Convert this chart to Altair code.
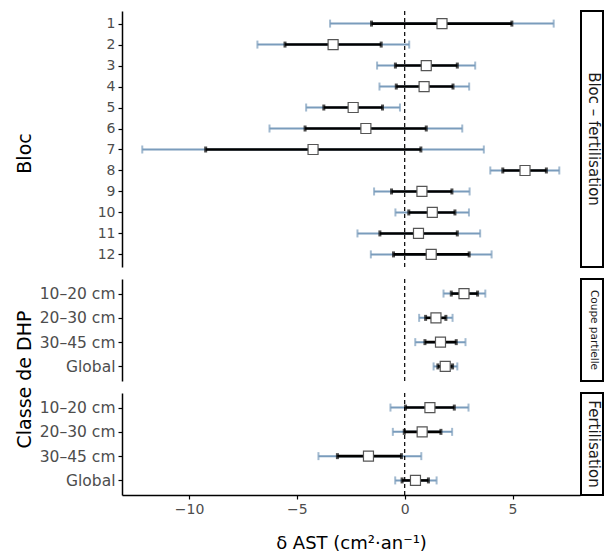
import altair as alt
import pandas as pd

W = 458
XMIN, XMAX = -13.11, 8.13
BLUE = "#7A9CBC"

bloc_labels = [str(i) for i in range(1, 13)]
bloc_est = [1.73, -3.32, 1.00, 0.90, -2.39, -1.80, -4.25, 5.58, 0.80, 1.28, 0.64, 1.23]
bloc_lo50 = [-1.54, -5.55, -0.43, -0.39, -3.75, -4.62, -9.23, 4.55, -0.61, 0.19, -1.15, -0.52]
bloc_hi50 = [4.97, -1.09, 2.44, 2.24, -1.03, 1.00, 0.75, 6.57, 2.19, 2.33, 2.44, 2.99]
bloc_lo95 = [-3.46, -6.83, -1.28, -1.17, -4.57, -6.27, -12.17, 3.97, -1.42, -0.43, -2.19, -1.57]
bloc_hi95 = [6.91, 0.21, 3.27, 2.99, -0.22, 2.67, 3.67, 7.17, 3.01, 2.98, 3.50, 4.03]

dhp_labels = ["10–20 cm", "20–30 cm", "30–45 cm", "Global"]
cp_est = [2.75, 1.45, 1.66, 1.88]
cp_lo50 = [2.16, 0.97, 0.94, 1.54]
cp_hi50 = [3.38, 1.91, 2.39, 2.22]
cp_lo95 = [1.80, 0.67, 0.49, 1.34]
cp_hi95 = [3.74, 2.22, 2.82, 2.44]

fe_est = [1.17, 0.81, -1.68, 0.50]
fe_lo50 = [0.04, -0.02, -3.12, -0.12]
fe_hi50 = [2.30, 1.68, -0.15, 1.10]
fe_lo95 = [-0.66, -0.55, -4.00, -0.44]
fe_hi95 = [2.96, 2.20, 0.77, 1.48]

x_ticks = [-10, -5, 0, 5]


def panel(labels, est, lo50, hi50, lo95, hi95, height, strip, strip_size,
          ytitle, title_y, show_x, label_size):
    df = pd.DataFrame(dict(label=labels, est=est, lo50=lo50, hi50=hi50,
                           lo95=lo95, hi95=hi95))
    xscale = alt.Scale(domain=[XMIN, XMAX], nice=False, zero=False)
    if show_x:
        xaxis = alt.Axis(values=x_ticks, title="δ AST (cm²·an⁻¹)", grid=False,
                         domainColor="black", domainWidth=1.5, tickColor="black",
                         tickSize=4, tickWidth=1.2, labelColor="#4D4D4D",
                         labelFontSize=14, labelPadding=3, titleFontSize=18,
                         titleFontWeight="normal", titleColor="black",
                         titlePadding=18)
    else:
        xaxis = None

    def X(f):
        return alt.X(f, scale=xscale, axis=xaxis)

    yscale = alt.Scale(type="point", domain=labels, padding=0.6)
    common = dict(grid=False, domainColor="black", domainWidth=1.5,
                  tickColor="black", tickSize=4, tickWidth=1.2,
                  labelColor="#4D4D4D", labelFontSize=label_size, labelPadding=3)
    if ytitle:
        yaxis = alt.Axis(title=ytitle, titleX=-98, titleY=title_y, titleAngle=270,
                         titleBaseline="middle", titleAlign="center",
                         titleFontSize=19, titleFontWeight="normal",
                         titleColor="black", **common)
    else:
        yaxis = alt.Axis(title=None, **common)
    Y = alt.Y("label:N", scale=yscale, axis=yaxis)

    base = alt.Chart(df)
    blue = base.mark_rule(color=BLUE, strokeWidth=2).encode(
        x=X("lo95:Q"), x2="hi95:Q", y=Y)
    blue_l = base.mark_tick(color=BLUE, size=8, thickness=2).encode(x=X("lo95:Q"), y=Y)
    blue_r = base.mark_tick(color=BLUE, size=8, thickness=2).encode(x=X("hi95:Q"), y=Y)
    zero = alt.Chart(alt.Data(values=[{"z": 0}])).mark_rule(
        color="black", strokeWidth=1.2, strokeDash=[4, 3]).encode(x=X("z:Q"))
    black = base.mark_rule(color="black", strokeWidth=2.6).encode(
        x=X("lo50:Q"), x2="hi50:Q", y=Y)
    black_l = base.mark_tick(color="black", size=6, thickness=3).encode(x=X("lo50:Q"), y=Y)
    black_r = base.mark_tick(color="black", size=6, thickness=3).encode(x=X("hi50:Q"), y=Y)
    pts = base.mark_square(size=100, fill="white", fillOpacity=1, stroke="#555555",
                           strokeWidth=1.2, opacity=1).encode(x=X("est:Q"), y=Y)

    sdata = alt.Data(values=[{"s": strip}])
    box = alt.Chart(sdata).mark_rect(fill="white", stroke="black", strokeWidth=2).encode(
        x=alt.value(W + 1), x2=alt.value(W + 23), y=alt.value(0), y2=alt.value(height))
    txt = alt.Chart(sdata).mark_text(angle=90, fontSize=strip_size, color="#1A1A1A",
                                     align="center", baseline="middle").encode(
        x=alt.value(W + 14), y=alt.value(height / 2), text="s:N")

    return alt.layer(blue, blue_l, blue_r, zero, black, black_l, black_r, pts,
                     box, txt).properties(width=W, height=height)


p1 = panel(bloc_labels, bloc_est, bloc_lo50, bloc_hi50, bloc_lo95, bloc_hi95,
           256, "Bloc – fertilisation", 15, "Bloc", 142, False, 14)
p2 = panel(dhp_labels, cp_est, cp_lo50, cp_hi50, cp_lo95, cp_hi95,
           102, "Coupe partielle", 10.5, "Classe de DHP", 100, False, 15.5)
p3 = panel(dhp_labels, fe_est, fe_lo50, fe_hi50, fe_lo95, fe_hi95,
           102, "Fertilisation", 15, None, 0, True, 15.5)

chart = alt.vconcat(p1, p2, p3, spacing=12, bounds="flush").properties(
    padding={"left": 7, "top": 2, "right": 0, "bottom": 0}
).configure(font="DejaVu Sans").configure_view(strokeWidth=0)

chart.save("out.html", embed_options={"renderer": "svg", "actions": False})
